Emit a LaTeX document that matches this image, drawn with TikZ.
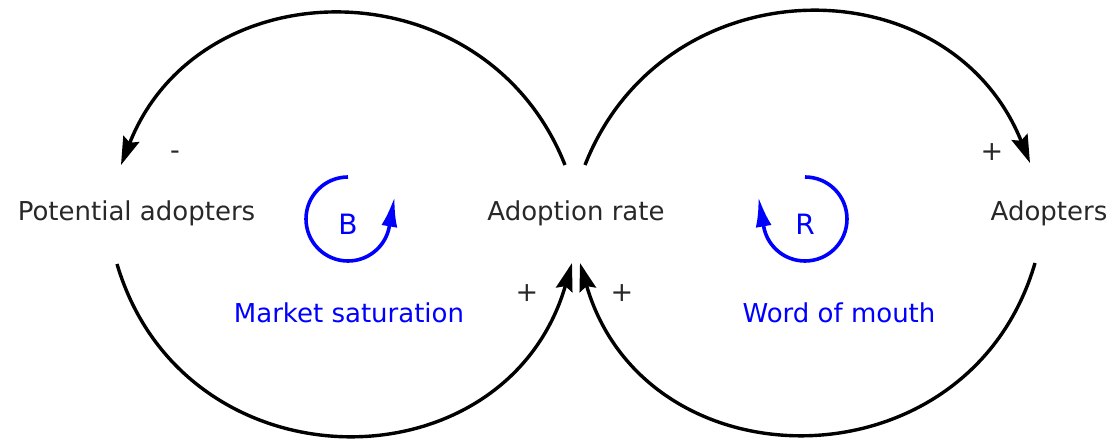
\documentclass[tikz,border=0pt]{standalone}
\usepackage{fontspec}
\setmainfont{DejaVu Sans}
\usetikzlibrary{arrows.meta}
\definecolor{loopblue}{RGB}{0,0,255}
\definecolor{txtgray}{RGB}{40,40,40}
\tikzset{
  lbl/.style={font=\fontsize{26}{30}\selectfont, text=txtgray, inner sep=0pt, anchor=base},
  bluelbl/.style={font=\fontsize{26}{30}\selectfont, text=loopblue, inner sep=0pt, anchor=base},
  looplbl/.style={font=\fontsize{28}{32}\selectfont, text=loopblue, inner sep=0pt, anchor=base},
  sgn/.style={font=\fontsize{27}{30}\selectfont, text=txtgray, inner sep=0pt},
  link/.style={line width=3.4pt, draw=black, -{Stealth[length=28pt,width=17pt,inset=4pt]}},
  loopar/.style={line width=3.6pt, draw=loopblue, -{Latex[length=30pt,width=16pt]}}
}
\begin{document}
\begin{tikzpicture}[x=1pt,y=1pt]
\useasboundingbox (0,0) rectangle (1117,440);
% variables
\node[lbl] (pa) at (136.5,220) {Potential adopters};
\node[lbl] (ar) at (576,220) {Adoption rate};
\node[lbl] (ad) at (1049,220) {Adopters};
% loop names
\node[bluelbl] (ms) at (349,118) {Market saturation};
\node[bluelbl] (wm) at (839,118) {Word of mouth};
\node[looplbl] (bl) at (348,206) {B};
\node[looplbl] (rl) at (805,206) {R};
% polarity signs
\node[sgn] (s1) at (175,285) {-};
\node[sgn] (s2) at (992,288) {+};
\node[sgn] (s3) at (527,147) {+};
\node[sgn] (s4) at (622,147) {+};
% connector ends
\coordinate (ul1) at (565,275);
\coordinate (ul2) at (121,275);
\coordinate (ll1) at (117,176);
\coordinate (ll2) at (572,177);
\coordinate (ur1) at (585,275);
\coordinate (ur2) at (1030,277);
\coordinate (lr1) at (1035,177);
\coordinate (lr2) at (580,177);
% causal links
\draw[link] (ul1) to[out=111.6,in=68.4,looseness=1.245] (ul2);
\draw[link] (ll1) to[out=-73.5,in=-106.2,looseness=1.33] (ll2);
\draw[link] (ur1) to[out=68.5,in=111.9,looseness=1.244] (ur2);
\draw[link] (lr1) to[out=-106.2,in=-73.8,looseness=1.33] (lr2);
% loop markers
\coordinate (btop) at (348,263);
\coordinate (rtop) at (805,263);
\draw[loopar] (btop) arc[start angle=90,end angle=350,radius=42] -- ++(80:30);
\draw[loopar] (rtop) arc[start angle=90,end angle=-170,radius=42] -- ++(100:30);
\end{tikzpicture}
\end{document}
